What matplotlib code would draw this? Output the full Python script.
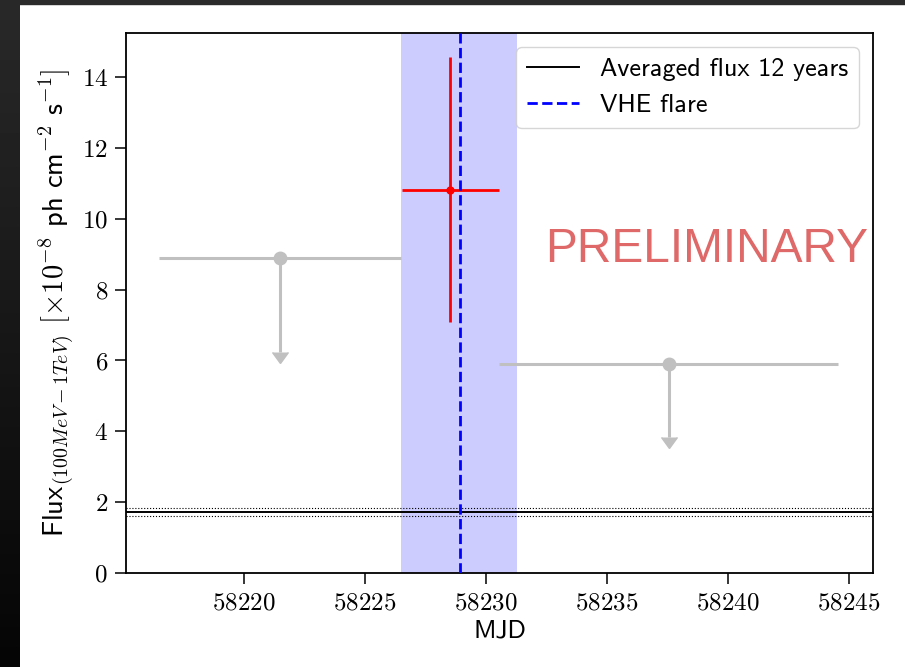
import numpy as np
import matplotlib
matplotlib.use("Agg")
import matplotlib.pyplot as plt
from matplotlib.patches import Rectangle
from matplotlib.ticker import MultipleLocator, FuncFormatter

plt.rcParams['mathtext.fontset'] = 'cm'
plt.rcParams['font.family'] = ['cmss10', 'DejaVu Sans']
plt.rcParams['axes.unicode_minus'] = False

# Fermi-LAT light curve bins (MJD centre, half width, flux in 1e-8 ph cm^-2 s^-1)
ul_mjd = [58221.5, 58237.55]
ul_halfwidth = [5.0, 7.0]
ul_flux = [8.89, 5.90]
ul_arrow = [2.65, 2.05]

det_mjd = [58228.53]
det_halfwidth = [2.0]
det_flux = [10.81]
det_err = [3.74]

avg_flux = 1.73
avg_flux_err = 0.11

flare_mjd = 58228.93
flare_window = (58226.5, 58231.3)

xlim = (58215.12, 58246.0)
ylim = (0, 15.24)

fig = plt.figure(figsize=(9.05, 6.67), dpi=100)

# dark screen border along the top and the left edge
fig.patches.append(Rectangle((0, 1 - 4 / 667), 1, 4 / 667, transform=fig.transFigure,
                             color='#2b2b2b', zorder=-5))
edge = fig.add_axes([0, 0, 19 / 905, 1])
edge.imshow(np.linspace(0.16, 0.02, 100).reshape(-1, 1), cmap='gray', vmin=0, vmax=1,
            aspect='auto', extent=(0, 1, 0, 1))
edge.axis('off')

ax = fig.add_axes([126 / 905, 94 / 667, 747 / 905, 540 / 667])

ax.axvspan(*flare_window, color='blue', alpha=0.2, lw=0, zorder=0)

ax.axhline(avg_flux, color='black', lw=1.4, label='Averaged flux 12 years', zorder=2)
ax.axhline(avg_flux + avg_flux_err, color='black', lw=0.8, ls=':', zorder=2)
ax.axhline(avg_flux - avg_flux_err, color='black', lw=0.8, ls=':', zorder=2)

ul = ax.errorbar(ul_mjd, ul_flux, xerr=ul_halfwidth, yerr=ul_arrow, uplims=True,
                 fmt='o', color='silver', ms=9, lw=2.2, zorder=3)
for cap in ul[1]:
    cap.set_markersize(11)

ax.errorbar(det_mjd, det_flux, xerr=det_halfwidth, yerr=det_err,
            fmt='o', color='red', ms=5, lw=2, zorder=4)

ax.axvline(flare_mjd, color='blue', ls='--', lw=2, label='VHE flare', zorder=5)

ax.text(58232.44, 8.78, 'PRELIMINARY', color='#df6868', fontsize=34.5,
        family='Liberation Sans', va='baseline', ha='left')

ax.set_xlim(*xlim)
ax.set_ylim(*ylim)
ax.xaxis.set_major_locator(MultipleLocator(5))
ax.yaxis.set_major_locator(MultipleLocator(2))
ax.xaxis.set_major_formatter(FuncFormatter(lambda v, p: '$%d$' % v))
ax.yaxis.set_major_formatter(FuncFormatter(lambda v, p: '$%d$' % v))
ax.tick_params(labelsize=18, length=8, width=1.1, pad=5)
for s in ax.spines.values():
    s.set_linewidth(1.3)

ax.set_xlabel('MJD', fontsize=18.5)
ax.set_ylabel(r'Flux$_{(100MeV-1TeV)}$ $[\times10^{-8}$ ph cm$^{-2}$ s$^{-1}]$', fontsize=20.5)

ax.legend(loc='upper right', fontsize=18.8, borderaxespad=0.55)

fig.savefig('out.png', dpi=100)
